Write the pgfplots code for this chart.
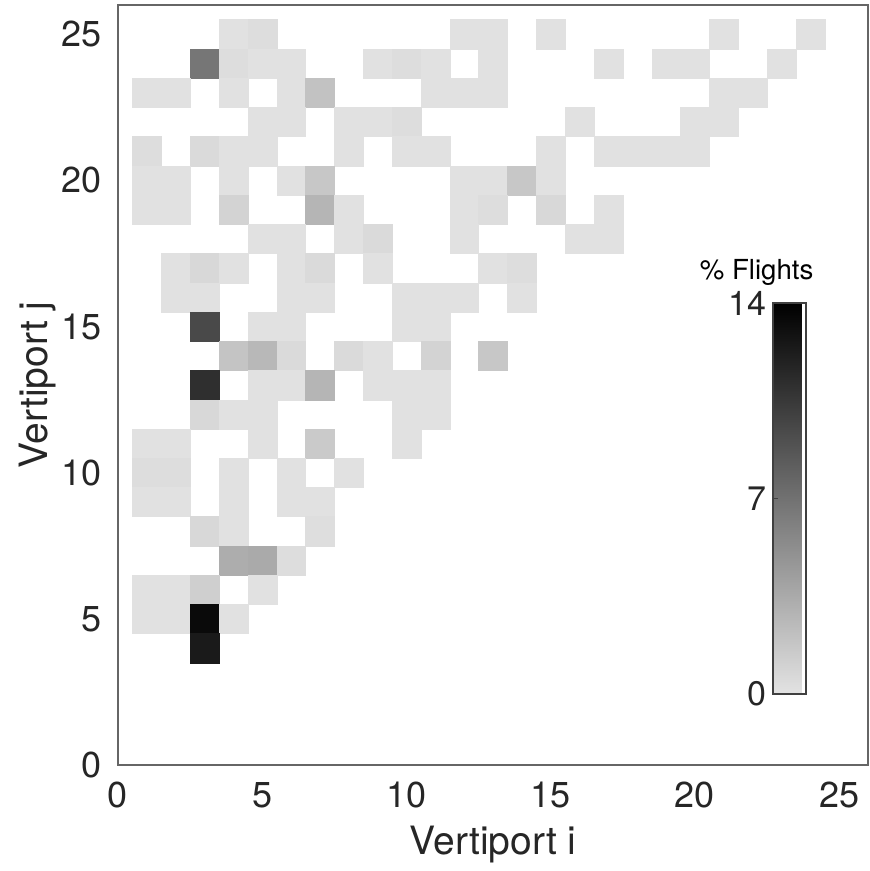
\documentclass[border=0pt]{standalone}
\usepackage{fontspec}
\setmainfont{TeX Gyre Heros}
\usepackage{pgfplots}
\pgfplotsset{compat=1.18}
\usepackage{pgfplotstable}

\pgfplotstableread{
i j v
4 25 0.1
5 25 0.35
12 25 0.1
13 25 0.1
15 25 0.1
21 25 0.1
24 25 0.1
3 24 6.7
4 24 0.35
5 24 0.1
6 24 0.1
9 24 0.1
10 24 0.35
11 24 0.1
13 24 0.1
17 24 0.1
19 24 0.1
20 24 0.1
23 24 0.1
1 23 0.1
2 23 0.1
4 23 0.1
6 23 0.1
7 23 2.0
11 23 0.1
12 23 0.1
13 23 0.1
21 23 0.1
22 23 0.1
5 22 0.1
6 22 0.1
8 22 0.1
9 22 0.1
10 22 0.35
16 22 0.1
20 22 0.1
21 22 0.1
1 21 0.35
3 21 0.55
4 21 0.1
5 21 0.1
8 21 0.1
10 21 0.1
11 21 0.1
15 21 0.1
17 21 0.1
18 21 0.1
19 21 0.1
20 21 0.1
1 20 0.1
2 20 0.1
4 20 0.1
6 20 0.1
7 20 1.7
12 20 0.1
13 20 0.1
14 20 1.7
15 20 0.1
1 19 0.1
2 19 0.1
4 19 1.0
7 19 2.8
8 19 0.1
12 19 0.1
13 19 0.35
15 19 0.7
17 19 0.1
5 18 0.1
6 18 0.1
8 18 0.1
9 18 0.55
12 18 0.1
16 18 0.1
17 18 0.1
2 17 0.1
3 17 0.7
4 17 0.1
6 17 0.1
7 17 0.55
9 17 0.1
13 17 0.1
14 17 0.35
2 16 0.1
3 16 0.1
6 16 0.1
7 16 0.1
10 16 0.1
11 16 0.1
12 16 0.1
14 16 0.1
3 15 9.4
5 15 0.1
6 15 0.1
10 15 0.1
11 15 0.1
4 14 1.9
5 14 2.6
6 14 0.55
8 14 0.55
9 14 0.1
11 14 1.0
13 14 1.7
3 13 11.0
5 13 0.1
6 13 0.1
7 13 2.8
9 13 0.1
10 13 0.1
11 13 0.1
3 12 0.7
4 12 0.1
5 12 0.1
10 12 0.1
11 12 0.1
1 11 0.1
2 11 0.1
5 11 0.1
7 11 1.5
10 11 0.1
1 10 0.35
2 10 0.35
4 10 0.1
6 10 0.1
8 10 0.1
1 9 0.1
2 9 0.1
4 9 0.1
6 9 0.1
7 9 0.1
3 8 0.7
4 8 0.1
7 8 0.3
4 7 3.3
5 7 3.5
6 7 0.35
1 6 0.1
2 6 0.1
3 6 1.2
5 6 0.1
1 5 0.1
2 5 0.1
3 5 13.3
4 5 0.1
3 4 12.3
}\cells

\begin{document}
\begin{tikzpicture}
\useasboundingbox (-59pt,-53pt) rectangle (376pt,382.5pt);
\begin{axis}[
  at={(0,0)}, anchor=south west,
  scale only axis, width=375pt, height=380pt,
  xmin=0, xmax=26, ymin=0, ymax=26,
  xtick={0,5,...,25}, ytick={0,5,...,25},
  tick style={draw=none},
  /pgf/number format/assume math mode=true,
  ticklabel style={font=\fontsize{18}{20}\selectfont, text=black!85},
  xticklabel style={yshift=-5pt},
  yticklabel style={xshift=-4.5pt},
  xlabel={Vertiport i}, ylabel={Vertiport j},
  label style={font=\fontsize{19.5}{22}\selectfont, text=black!85},
  xlabel style={at={(axis description cs:0.5,0)}, anchor=center, yshift=-40pt},
  ylabel style={at={(axis description cs:0,0.5)}, anchor=center, yshift=40pt},
  axis line style={draw=black!60, line width=0.8pt},
  colormap={flgray}{gray(0cm)=(0.89); gray(1cm)=(0)},
  point meta min=0, point meta max=14,
  colorbar,
  colorbar style={
    at={(parent axis.south west)}, anchor=south west,
    xshift=319pt, yshift=35.5pt,
    scale only axis, width=16.5pt, height=195.5pt,
    ytick={0,7,14}, ytick pos=left, yticklabel pos=left,
    major tick length=2.5pt, tick align=inside,
    ytick style={draw=black!75, line width=0.5pt},
    axis line style={draw=black!75, line width=0.6pt},
    /pgf/number format/assume math mode=true,
    yticklabel style={font=\fontsize{17}{19}\selectfont, text=black!85, xshift=0pt},
    title={\% Flights},
    title style={font=\fontsize{13.8}{16}\selectfont, text=black, at={(0.5,1)}, anchor=south, xshift=-16.5pt, yshift=-1pt},
  },
]
\addplot[scatter, only marks, mark=square*, mark size=7.31pt,
  scatter src=explicit,
  scatter/use mapped color={draw=mapped color, fill=mapped color, line width=0.1pt},
  every mark/.append style={xscale=0.9868}]
  table[x=i, y=j, meta=v] {\cells};
\end{axis}
\end{tikzpicture}
\end{document}
